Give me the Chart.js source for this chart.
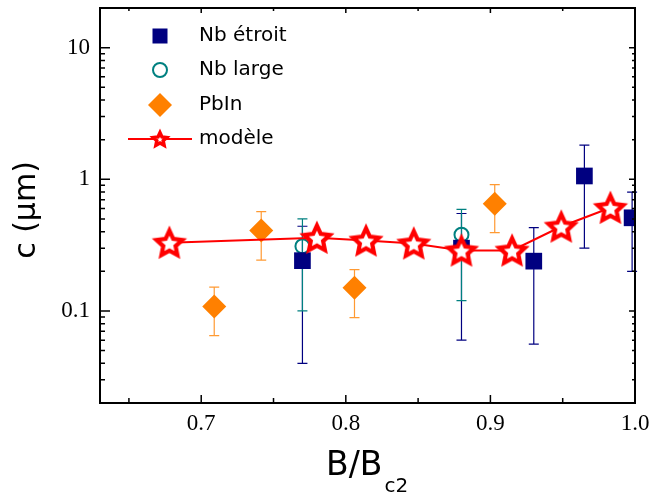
<!DOCTYPE html>
<html>
<head>
  <title>c vs B/Bc2</title>
  <script src="https://cdn.jsdelivr.net/npm/chart.js"></script>
  <style>
    body { margin: 0; background: #fff; }
    #wrap { width: 650px; height: 495px; }
  </style>
</head>
<body>
<div id="wrap"><canvas id="cChart" width="650" height="495"></canvas></div>
<script>
  // ---- data ----
  const nbEtroitX  = [0.770, 0.880, 0.930, 0.965, 0.998];
  const nbEtroitY  = [0.241, 0.300, 0.239, 1.06, 0.51];
  const nbEtroitLo = [0.040, 0.060, 0.056, 0.30, 0.20];
  const nbEtroitHi = [0.44, 0.55, 0.43, 1.82, 0.80];

  const nbLargeX  = [0.770, 0.880];
  const nbLargeY  = [0.31, 0.38];
  const nbLargeLo = [0.10, 0.12];
  const nbLargeHi = [0.50, 0.59];

  const pbInX  = [0.709, 0.7415, 0.806, 0.903];
  const pbInY  = [0.108, 0.409, 0.150, 0.653];
  const pbInLo = [0.065, 0.243, 0.089, 0.393];
  const pbInHi = [0.152, 0.568, 0.206, 0.91];

  const modelX = [0.678, 0.780, 0.814, 0.847, 0.880, 0.915, 0.949, 0.983];
  const modelY = [0.33, 0.36, 0.343, 0.326, 0.288, 0.288, 0.438, 0.608];

  const yLabelTicks = [0.1, 1, 10];
  const xLabelTicks = [0.7, 0.8, 0.9, 1.0];

  const NAVY = '#000080', TEAL = '#008080', ORANGE = '#FF8000', RED = '#FF0000';

  function pts(xs, ys) { return xs.map((x, i) => ({ x: x, y: ys[i] })); }

  // 5-point star as an image for pointStyle
  function starImage(R, lw, inner) {
    const size = Math.ceil(2 * R + 4 * lw);
    const c = document.createElement('canvas');
    c.width = size; c.height = size;
    const g = c.getContext('2d');
    const cx = size / 2, cy = size / 2 + R * 0.1;
    g.beginPath();
    for (let i = 0; i < 10; i++) {
      const r = i % 2 === 0 ? R : R * inner;
      const a = -Math.PI / 2 + i * Math.PI / 5;
      g.lineTo(cx + r * Math.cos(a), cy + r * Math.sin(a));
    }
    g.closePath();
    g.fillStyle = '#fff';
    g.fill();
    g.lineWidth = lw;
    g.lineJoin = 'miter';
    g.miterLimit = 3;
    g.strokeStyle = RED;
    g.stroke();
    return c;
  }
  const bigStar = starImage(13.5, 4.2, 0.48);
  const smallStar = starImage(7, 3.5, 0.48);

  const errors = [
    { idx: 1, lo: nbEtroitLo, hi: nbEtroitHi, color: NAVY, cap: 5 },
    { idx: 2, lo: nbLargeLo, hi: nbLargeHi, color: TEAL, cap: 5 },
    { idx: 3, lo: pbInLo, hi: pbInHi, color: '#FF9A33', cap: 5 }
  ];

  const errorBarPlugin = {
    id: 'errorBars',
    beforeDatasetsDraw(chart) {
      const ctx = chart.ctx, xs = chart.scales.x, ys = chart.scales.y;
      ctx.save();
      ctx.lineWidth = 1.2;
      errors.forEach(e => {
        const data = chart.data.datasets[e.idx].data;
        ctx.strokeStyle = e.color;
        data.forEach((p, i) => {
          const px = xs.getPixelForValue(p.x);
          const top = ys.getPixelForValue(e.hi[i]);
          const bot = ys.getPixelForValue(e.lo[i]);
          ctx.beginPath();
          ctx.moveTo(px, top); ctx.lineTo(px, bot);
          ctx.moveTo(px - e.cap, top); ctx.lineTo(px + e.cap, top);
          ctx.moveTo(px - e.cap, bot); ctx.lineTo(px + e.cap, bot);
          ctx.stroke();
        });
      });
      ctx.restore();
    }
  };

  const framePlugin = {
    id: 'frame',
    afterDraw(chart) {
      const ctx = chart.ctx, a = chart.chartArea;
      const xs = chart.scales.x, ys = chart.scales.y;
      ctx.save();
      ctx.strokeStyle = '#000';
      ctx.lineWidth = 2;
      ctx.strokeRect(a.left, a.top, a.right - a.left, a.bottom - a.top);

      // x ticks, inward on bottom and top
      ctx.lineWidth = 1.5;
      ctx.beginPath();
      for (let v = 0.65; v < 1.0001; v += 0.05) {
        const px = xs.getPixelForValue(v);
        const major = xLabelTicks.some(t => Math.abs(t - v) < 1e-6);
        ctx.moveTo(px, a.bottom); ctx.lineTo(px, a.bottom - (major ? 8 : 5));
        ctx.moveTo(px, a.top); ctx.lineTo(px, a.top + (major ? 5 : 3));
      }
      // y ticks, log decades with minors
      for (let d = -2; d <= 1; d++) {
        for (let m = 1; m <= 9; m++) {
          const v = m * Math.pow(10, d);
          if (v < ys.min - 1e-9 || v > ys.max + 1e-9) continue;
          const py = ys.getPixelForValue(v);
          const major = m === 1;
          ctx.moveTo(a.left, py); ctx.lineTo(a.left + (major ? 10 : 5), py);
          ctx.moveTo(a.right, py); ctx.lineTo(a.right - (major ? 6 : 3), py);
        }
      }
      ctx.stroke();

      // axis titles
      ctx.fillStyle = '#000';
      ctx.font = '30px "DejaVu Sans"';
      ctx.textAlign = 'center';
      ctx.textBaseline = 'middle';
      ctx.save();
      ctx.translate(27, 210);
      ctx.rotate(-Math.PI / 2);
      ctx.fillText('c (\u03BCm)', 0, 0);
      ctx.restore();

      ctx.textAlign = 'left';
      ctx.textBaseline = 'alphabetic';
      ctx.font = '33px "DejaVu Sans"';
      ctx.fillText('B/B', 326, 475);
      const w = ctx.measureText('B/B').width;
      ctx.font = '20px "DejaVu Sans"';
      ctx.fillText('c2', 326 + w + 2, 492);

      // legend
      const rows = [
        { y: 36, label: 'Nb \u00E9troit' },
        { y: 70, label: 'Nb large' },
        { y: 105, label: 'PbIn' },
        { y: 139, label: 'mod\u00E8le' }
      ];
      const lx = 160;
      ctx.fillStyle = NAVY;
      ctx.fillRect(lx - 7.5, rows[0].y - 7.5, 15, 15);
      ctx.strokeStyle = TEAL; ctx.lineWidth = 2;
      ctx.beginPath(); ctx.arc(lx, rows[1].y, 7, 0, Math.PI * 2); ctx.stroke();
      ctx.fillStyle = ORANGE;
      ctx.beginPath();
      ctx.moveTo(lx, rows[2].y - 12); ctx.lineTo(lx + 12, rows[2].y);
      ctx.lineTo(lx, rows[2].y + 12); ctx.lineTo(lx - 12, rows[2].y);
      ctx.closePath(); ctx.fill();
      ctx.strokeStyle = RED; ctx.lineWidth = 2;
      ctx.beginPath(); ctx.moveTo(128, rows[3].y); ctx.lineTo(192, rows[3].y); ctx.stroke();
      ctx.drawImage(smallStar, lx - smallStar.width / 2, rows[3].y - smallStar.height / 2);

      ctx.fillStyle = '#000';
      ctx.font = '20px "DejaVu Sans"';
      ctx.textBaseline = 'middle';
      rows.forEach(r => ctx.fillText(r.label, 199, r.y));
      ctx.restore();
    }
  };

  new Chart(document.getElementById('cChart'), {
    type: 'scatter',
    data: {
      datasets: [
        {
          label: 'mod\u00E8le',
          data: pts(modelX, modelY),
          showLine: true,
          borderColor: RED,
          borderWidth: 2,
          pointStyle: bigStar,
          pointRadius: 15,
          order: 0
        },
        {
          label: 'Nb \u00E9troit',
          data: pts(nbEtroitX, nbEtroitY),
          pointStyle: 'rect',
          pointRadius: 11.8,
          backgroundColor: NAVY,
          borderColor: NAVY,
          borderWidth: 0,
          order: 1
        },
        {
          label: 'Nb large',
          data: pts(nbLargeX, nbLargeY),
          pointStyle: 'circle',
          pointRadius: 7,
          backgroundColor: 'rgba(0,0,0,0)',
          borderColor: TEAL,
          borderWidth: 2,
          order: 2
        },
        {
          label: 'PbIn',
          data: pts(pbInX, pbInY),
          pointStyle: 'rectRot',
          pointRadius: 12,
          backgroundColor: ORANGE,
          borderColor: ORANGE,
          borderWidth: 0,
          order: 3
        }
      ]
    },
    options: {
      responsive: false,
      animation: false,
      layout: { autoPadding: false, padding: { left: 0, right: 15, top: 8, bottom: 0 } },
      plugins: { legend: { display: false }, tooltip: { enabled: false } },
      scales: {
        x: {
          type: 'linear',
          min: 0.63,
          max: 1.0,
          grid: { display: false, drawTicks: false },
          border: { display: false },
          ticks: {
            stepSize: 0.05,
            autoSkip: false,
            maxRotation: 0,
            padding: 7,
            color: '#000',
            font: { family: '"Liberation Serif"', size: 23 },
            callback: v => xLabelTicks.some(t => Math.abs(t - v) < 1e-6) ? v.toFixed(1) : null
          },
          afterFit: s => { s.height = 92; s.paddingLeft = 0; s.paddingRight = 0; }
        },
        y: {
          type: 'logarithmic',
          min: 0.02,
          max: 20,
          grid: { display: false, drawTicks: false },
          border: { display: false },
          ticks: {
            autoSkip: false,
            padding: 10,
            color: '#000',
            font: { family: '"Liberation Serif"', size: 23 },
            callback: v => yLabelTicks.some(t => Math.abs(t - v) < 1e-9) ? String(v) : null
          },
          afterFit: s => { s.width = 100; s.paddingTop = 0; s.paddingBottom = 0; }
        }
      }
    },
    plugins: [errorBarPlugin, framePlugin]
  });
</script>
</body>
</html>
